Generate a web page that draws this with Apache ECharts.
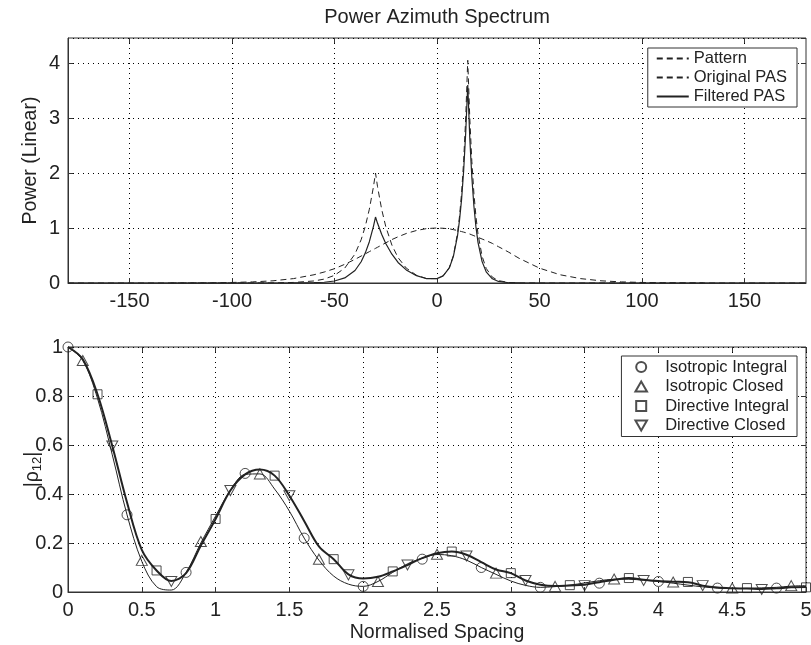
<!DOCTYPE html>
<html><head><meta charset="utf-8">
<script src="https://cdn.jsdelivr.net/npm/echarts@6/dist/echarts.min.js"></script>
<style>html,body{margin:0;padding:0;background:#fff}#c{width:811px;height:645px}</style>
</head><body><div id="c"></div>
<script>
// ---------- Top panel: Power Azimuth Spectrum ----------
const azimuthDeg = [-180,-170,-160,-150,-140,-130,-120,-110,-100,-90,-80,-70,-60,-55,-50,-45,-40,-37,-35,-33,-31,-30,-29,-27,-25,-22,-19,-15,-10,-5,0,3,6,8,10,11,12,13,14,15,16,17,18,19,20,22,24,27,30,35,40,50,60,70,80,90,100,110,120,130,140,150,160,170,180];
const patternPower = [null,null,null,null,null,0,0.001,0.004,0.01,0.02,0.04,0.08,0.15,0.2,0.26,0.34,0.43,0.49,0.53,0.57,0.61,0.63,0.65,0.69,0.73,0.79,0.84,0.9,0.955,0.99,1.0,0.995,0.985,0.97,0.955,0.945,0.935,0.925,0.915,0.9,0.89,0.875,0.86,0.845,0.83,0.8,0.77,0.72,0.66,0.56,0.45,0.27,0.15,0.08,0.04,0.02,0.01,0.004,0.001,0,null,null,null,null,null];
const originalPAS = [0,0,0,0,0,0,0,0,0,0.001,0.002,0.01,0.037,0.071,0.139,0.271,0.527,0.787,1.027,1.341,1.75,2.0,1.75,1.341,1.027,0.689,0.462,0.271,0.141,0.08,0.08,0.13,0.28,0.5,0.9,1.22,1.64,2.22,3.0,4.05,2.99,2.21,1.63,1.21,0.89,0.486,0.265,0.106,0.043,0.009,0.002,0,0,0,0,0,0,0,0,0,0,0,0,0,0];
const filteredPAS = [0,0,0,0,0,0,0,0,0,0,0,0.001,0.006,0.014,0.036,0.092,0.227,0.386,0.544,0.751,1.03,1.2,1.085,0.885,0.719,0.524,0.374,0.238,0.133,0.078,0.08,0.13,0.274,0.485,0.855,1.147,1.525,2.04,2.73,3.6,2.63,1.92,1.4,1.02,0.74,0.389,0.204,0.076,0.028,0.005,0.001,0,0,0,0,0,0,0,0,0,0,0,0,0,0];
const azimuthTicks = [-150,-100,-50,0,50,100,150];

// ---------- Bottom panel: correlation vs spacing ----------
const spacing = [0,0.1,0.2,0.3,0.4,0.5,0.6,0.7,0.8,0.9,1.0,1.1,1.2,1.3,1.4,1.5,1.6,1.7,1.8,1.9,2.0,2.1,2.2,2.3,2.4,2.5,2.6,2.7,2.8,2.9,3.0,3.1,3.2,3.3,3.4,3.5,3.6,3.7,3.8,3.9,4.0,4.1,4.2,4.3,4.4,4.5,4.6,4.7,4.8,4.9,5.0];
const isotropicCurve = [1.0,0.945,0.79,0.56,0.315,0.125,0.022,0.008,0.08,0.2,0.31,0.415,0.48,0.482,0.42,0.33,0.22,0.13,0.065,0.032,0.023,0.043,0.08,0.115,0.138,0.153,0.148,0.13,0.1,0.072,0.045,0.027,0.019,0.022,0.028,0.037,0.046,0.052,0.052,0.048,0.043,0.036,0.028,0.021,0.016,0.014,0.015,0.017,0.019,0.024,0.026];
const directiveCurve = [1.0,0.95,0.807,0.596,0.365,0.172,0.088,0.045,0.077,0.19,0.298,0.414,0.48,0.5,0.475,0.393,0.29,0.186,0.134,0.072,0.055,0.062,0.084,0.11,0.138,0.158,0.165,0.152,0.122,0.092,0.077,0.047,0.03,0.024,0.027,0.03,0.04,0.05,0.057,0.05,0.045,0.042,0.04,0.026,0.018,0.015,0.014,0.012,0.015,0.019,0.02];

const isoIntX = [0,0.4,0.8,1.2,1.6,2.0,2.4,2.8,3.2,3.6,4.0,4.4,4.8];
const isoIntY = [1.0,0.315,0.08,0.484,0.22,0.023,0.134,0.10,0.019,0.036,0.043,0.016,0.016];
const isoClosedX = [0.1,0.5,0.9,1.3,1.7,2.1,2.5,2.9,3.3,3.7,4.1,4.5,4.9];
const isoClosedY = [0.945,0.129,0.206,0.482,0.134,0.043,0.154,0.077,0.023,0.053,0.041,0.016,0.026];
const dirIntX = [0.2,0.6,1.0,1.4,1.8,2.2,2.6,3.0,3.4,3.8,4.2,4.6,5.0];
const dirIntY = [0.807,0.088,0.298,0.475,0.134,0.084,0.165,0.077,0.028,0.057,0.041,0.016,0.019];
const dirClosedX = [0.3,0.7,1.1,1.5,1.9,2.3,2.7,3.1,3.5,3.9,4.3,4.7];
const dirClosedY = [0.596,0.043,0.414,0.393,0.07,0.11,0.147,0.047,0.026,0.047,0.026,0.01];

const topLegendNames = ['Pattern','Original PAS','Filtered PAS'];
const bottomLegendNames = ['Isotropic Integral','Isotropic Closed','Directive Integral','Directive Closed'];

// ---------- build ----------
const FONT = '"Liberation Sans", Arial, Helvetica, sans-serif';
const INK = '#222';
const zip = (xs, ys) => xs.map((x, i) => [x, ys[i]]);

const SYM_CIRCLE = 'path://M10,5A5,5,0,1,1,0,5A5,5,0,1,1,10,5Z';
const SYM_UP = 'path://M5,0L10,8.66L0,8.66Z';
const SYM_RECT = 'path://M0,0H10V10H0Z';
const SYM_DOWN = 'path://M0,0L10,0L5,8.66Z';

const tickLabel = { color: INK, fontSize: 20, fontFamily: FONT };
const dotted = { show: true, lineStyle: { color: '#000', type: [1, 4], width: 1 } };
const axLine = { show: true, onZero: false, lineStyle: { color: '#333', width: 1 } };
const inTick = { show: true, inside: true, length: 5, lineStyle: { color: '#333' } };
const nameStyle = { color: INK, fontSize: 19.5, fontFamily: FONT };

function mainX(grid, extra) {
  return Object.assign({ type: 'value', gridIndex: grid, position: 'bottom', axisLine: axLine, axisTick: inTick,
    axisLabel: Object.assign({ margin: 8 }, tickLabel), splitLine: dotted, nameMoveOverlap: false }, extra);
}
function ghostX(grid, extra) {
  return Object.assign({ type: 'value', gridIndex: grid, position: 'top', axisLine: { show: false, onZero: false },
    axisTick: inTick, axisLabel: { show: false }, splitLine: { show: false } }, extra);
}

const option = {
  animation: false,
  backgroundColor: '#fff',
  textStyle: { fontFamily: FONT },
  graphic: [{
    type: 'text', x: 437, y: 17,
    style: { text: 'Power Azimuth Spectrum', font: '20px ' + FONT, fill: INK, align: 'center', verticalAlign: 'middle', textAlign: 'center', textVerticalAlign: 'middle' }
  }],
  grid: [
    { left: 68, right: 5, top: 38, height: 245, show: true, borderColor: '#333', borderWidth: 1, backgroundColor: 'transparent', outerBoundsMode: 'none', containLabel: false },
    { left: 68, right: 5, top: 347, height: 245, show: true, borderColor: '#333', borderWidth: 1, backgroundColor: 'transparent', outerBoundsMode: 'none', containLabel: false }
  ],
  xAxis: [
    mainX(0, { min: -180, max: 180,
      axisTick: Object.assign({}, inTick, { customValues: azimuthTicks }),
      axisLabel: Object.assign({ margin: 8, customValues: azimuthTicks }, tickLabel) }),
    ghostX(0, { min: -180, max: 180, axisTick: Object.assign({}, inTick, { customValues: azimuthTicks }) }),
    mainX(1, { min: 0, max: 5, interval: 0.5, name: 'Normalised Spacing', nameLocation: 'middle', nameGap: 31,
      nameTextStyle: nameStyle }),
    ghostX(1, { min: 0, max: 5, interval: 0.5 })
  ],
  yAxis: [
    { type: 'value', gridIndex: 0, min: 0, max: 4.455, interval: 1, axisLine: axLine, axisTick: inTick,
      axisLabel: Object.assign({ margin: 8, showMaxLabel: false }, tickLabel), splitLine: dotted,
      name: 'Power (Linear)', nameLocation: 'middle', nameGap: 27, nameMoveOverlap: false, nameTextStyle: nameStyle },
    { type: 'value', gridIndex: 0, min: 0, max: 4.455, interval: 1, position: 'right', axisLine: { show: false, onZero: false },
      axisTick: inTick, axisLabel: { show: false }, splitLine: { show: false } },
    { type: 'value', gridIndex: 1, min: 0, max: 1, interval: 0.2, axisLine: axLine, axisTick: inTick,
      axisLabel: Object.assign({ margin: 5 }, tickLabel), splitLine: dotted,
      name: '|ρ{s|12}|', nameLocation: 'middle', nameGap: 24, nameMoveOverlap: false,
      nameTextStyle: Object.assign({}, nameStyle, {
        rich: { s: { fontSize: 13, fontFamily: FONT, color: INK, verticalAlign: 'bottom', padding: [9, 0, 0, 0] } } }) },
    { type: 'value', gridIndex: 1, min: 0, max: 1, interval: 0.2, position: 'right', axisLine: { show: false, onZero: false },
      axisTick: inTick, axisLabel: { show: false }, splitLine: { show: false } }
  ],
  legend: [
    { data: topLegendNames, orient: 'vertical', right: 14, top: 48, itemWidth: 32, itemHeight: 10, itemGap: 2,
      padding: [2, 10, 2, 8], backgroundColor: '#fff', borderColor: '#333', borderWidth: 1, borderRadius: 0,
      itemStyle: { opacity: 0 },
      textStyle: { color: INK, fontSize: 16.5, fontFamily: FONT }, selectedMode: false },
    { data: [
        { name: bottomLegendNames[0], icon: SYM_CIRCLE },
        { name: bottomLegendNames[1], icon: SYM_UP },
        { name: bottomLegendNames[2], icon: SYM_RECT },
        { name: bottomLegendNames[3], icon: SYM_DOWN } ],
      orient: 'vertical', right: 14, top: 356, itemWidth: 38, itemHeight: 10, itemGap: 2.5,
      padding: [2.5, 8, 2.5, 13], backgroundColor: '#fff', borderColor: '#333', borderWidth: 1, borderRadius: 0,
      textStyle: { color: INK, fontSize: 16.5, fontFamily: FONT }, selectedMode: false }
  ],
  series: [
    { name: topLegendNames[0], type: 'line', xAxisIndex: 0, yAxisIndex: 0, data: zip(azimuthDeg, patternPower),
      symbol: 'none', connectNulls: false, lineStyle: { color: INK, width: 1, type: [6, 4] }, itemStyle: { color: INK } },
    { name: topLegendNames[1], type: 'line', xAxisIndex: 0, yAxisIndex: 0, data: zip(azimuthDeg, originalPAS),
      symbol: 'none', lineStyle: { color: INK, width: 1, type: [6, 4] }, itemStyle: { color: INK } },
    { name: topLegendNames[2], type: 'line', xAxisIndex: 0, yAxisIndex: 0, data: zip(azimuthDeg, filteredPAS),
      symbol: 'none', lineStyle: { color: INK, width: 1.2, type: 'solid' }, itemStyle: { color: INK } },

    { name: 'isoCurve', type: 'line', xAxisIndex: 2, yAxisIndex: 2, data: zip(spacing, isotropicCurve),
      symbol: 'none', smooth: 0.35, lineStyle: { color: INK, width: 1 }, z: 2 },
    { name: 'dirCurve', type: 'line', xAxisIndex: 2, yAxisIndex: 2, data: zip(spacing, directiveCurve),
      symbol: 'none', smooth: 0.35, lineStyle: { color: INK, width: 2 }, z: 2 },

    { name: bottomLegendNames[0], type: 'scatter', xAxisIndex: 2, yAxisIndex: 2, data: zip(isoIntX, isoIntY),
      symbol: SYM_CIRCLE, symbolSize: 10, itemStyle: { color: 'rgba(0,0,0,0)', borderColor: INK, borderWidth: 1 }, z: 3 },
    { name: bottomLegendNames[1], type: 'scatter', xAxisIndex: 2, yAxisIndex: 2, data: zip(isoClosedX, isoClosedY),
      symbol: SYM_UP, symbolSize: [11, 10], itemStyle: { color: 'rgba(0,0,0,0)', borderColor: INK, borderWidth: 1 }, z: 3 },
    { name: bottomLegendNames[2], type: 'scatter', xAxisIndex: 2, yAxisIndex: 2, data: zip(dirIntX, dirIntY),
      symbol: SYM_RECT, symbolSize: 9, itemStyle: { color: 'rgba(0,0,0,0)', borderColor: INK, borderWidth: 1 }, z: 3 },
    { name: bottomLegendNames[3], type: 'scatter', xAxisIndex: 2, yAxisIndex: 2, data: zip(dirClosedX, dirClosedY),
      symbol: SYM_DOWN, symbolSize: [11, 10], itemStyle: { color: 'rgba(0,0,0,0)', borderColor: INK, borderWidth: 1 }, z: 3 }
  ]
};

const chart = echarts.init(document.getElementById('c'), null, { renderer: 'canvas' });
chart.setOption(option);
</script>
</body></html>
